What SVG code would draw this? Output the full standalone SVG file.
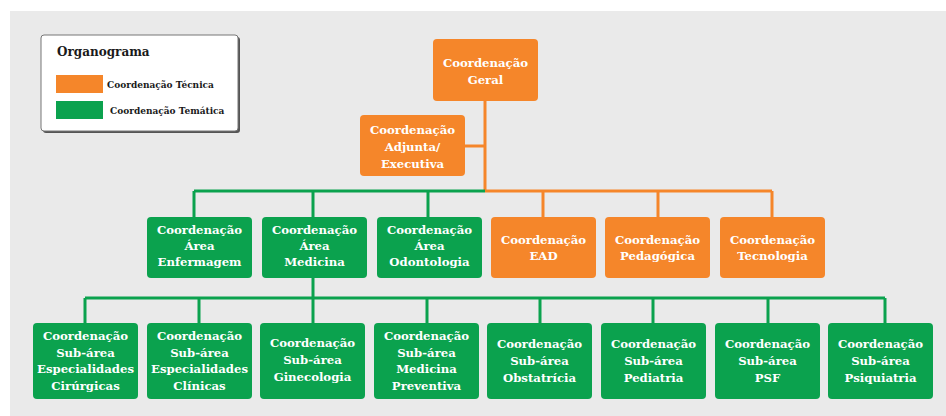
<svg xmlns="http://www.w3.org/2000/svg" width="946" height="416" viewBox="0 0 946 416">
<style>
.bg{fill:#eaeaea}
.o{fill:#f5862a}
.g{fill:#0ba24e}
.t{font-family:"DejaVu Serif","Liberation Serif",serif;font-weight:bold;font-size:11.7px;fill:#ffffff;text-anchor:middle}
.lg{font-family:"DejaVu Serif","Liberation Serif",serif;font-weight:bold;fill:#1a1a1a}
.lo{stroke:#f5862a;stroke-width:3;fill:none}
.lgn{stroke:#0ba24e;stroke-width:3;fill:none}
</style>
<rect x="0" y="0" width="946" height="416" fill="#ffffff"/>
<rect class="bg" x="10" y="11" width="936" height="405"/>

<g id="legend">
<rect x="43" y="37" width="197" height="96" rx="3" fill="#555555"/>
<rect x="41" y="35" width="197" height="96" rx="3" fill="#ffffff" stroke="#777777" stroke-width="1"/>
<text class="lg" x="57" y="56" font-size="12">Organograma</text>
<rect class="o" x="56" y="75" width="47" height="18"/>
<text class="lg" x="107" y="88" font-size="9">Coordenação Técnica</text>
<rect class="g" x="56" y="101" width="47" height="18"/>
<text class="lg" x="110" y="114" font-size="9">Coordenação Temática</text>
</g>

<g id="connectors">
<path class="lo" d="M485 101 V191 M465 146 H485 M485 191 H772 M543 191 V217 M658 191 V217 M772 191 V217"/>
<path class="lgn" d="M194 191 H485 M194 191 V217 M313 191 V217 M428 191 V217"/>
<path class="lgn" d="M313 278 V298 M85 298 H885 M85 298 V323 M199 298 V323 M313 298 V323 M427 298 V323 M540 298 V323 M653 298 V323 M768 298 V323 M885 298 V323"/>
</g>

<g id="geral">
<rect class="o" x="433" y="39" width="105" height="62" rx="4"/>
<text class="t" x="485.5" y="67">Coordenação</text>
<text class="t" x="485.5" y="84">Geral</text>
</g>
<g id="adjunta">
<rect class="o" x="360" y="115" width="105" height="61" rx="4"/>
<text class="t" x="412.5" y="134">Coordenação</text>
<text class="t" x="412.5" y="151">Adjunta/</text>
<text class="t" x="412.5" y="168">Executiva</text>
</g>

<g id="enfermagem">
<rect class="g" x="147" y="217" width="105" height="61" rx="4"/>
<text class="t" x="199.5" y="234">Coordenação</text>
<text class="t" x="199.5" y="250">Área</text>
<text class="t" x="199.5" y="266">Enfermagem</text>
</g>
<g id="medicina">
<rect class="g" x="262" y="217" width="105" height="61" rx="4"/>
<text class="t" x="314.5" y="234">Coordenação</text>
<text class="t" x="314.5" y="250">Área</text>
<text class="t" x="314.5" y="266">Medicina</text>
</g>
<g id="odontologia">
<rect class="g" x="377" y="217" width="105" height="61" rx="4"/>
<text class="t" x="429.5" y="234">Coordenação</text>
<text class="t" x="429.5" y="250">Área</text>
<text class="t" x="429.5" y="266">Odontologia</text>
</g>
<g id="ead">
<rect class="o" x="491" y="217" width="105" height="61" rx="4"/>
<text class="t" x="543.5" y="244">Coordenação</text>
<text class="t" x="543.5" y="260">EAD</text>
</g>
<g id="pedagogica">
<rect class="o" x="605" y="217" width="105" height="61" rx="4"/>
<text class="t" x="657.5" y="244">Coordenação</text>
<text class="t" x="657.5" y="260">Pedagógica</text>
</g>
<g id="tecnologia">
<rect class="o" x="720" y="217" width="105" height="61" rx="4"/>
<text class="t" x="772.5" y="244">Coordenação</text>
<text class="t" x="772.5" y="260">Tecnologia</text>
</g>

<g id="cirurgicas">
<rect class="g" x="33" y="323" width="105" height="76" rx="4"/>
<text class="t" x="85.5" y="340">Coordenação</text>
<text class="t" x="85.5" y="357">Sub-área</text>
<text class="t" x="85.5" y="373">Especialidades</text>
<text class="t" x="85.5" y="390">Cirúrgicas</text>
</g>
<g id="clinicas">
<rect class="g" x="147" y="323" width="105" height="76" rx="4"/>
<text class="t" x="199.5" y="340">Coordenação</text>
<text class="t" x="199.5" y="357">Sub-área</text>
<text class="t" x="199.5" y="373">Especialidades</text>
<text class="t" x="199.5" y="390">Clínicas</text>
</g>
<g id="ginecologia">
<rect class="g" x="260" y="323" width="105" height="76" rx="4"/>
<text class="t" x="312.5" y="347">Coordenação</text>
<text class="t" x="312.5" y="364">Sub-área</text>
<text class="t" x="312.5" y="381">Ginecologia</text>
</g>
<g id="preventiva">
<rect class="g" x="374" y="323" width="105" height="76" rx="4"/>
<text class="t" x="426.5" y="340">Coordenação</text>
<text class="t" x="426.5" y="357">Sub-área</text>
<text class="t" x="426.5" y="373">Medicina</text>
<text class="t" x="426.5" y="390">Preventiva</text>
</g>
<g id="obstatricia">
<rect class="g" x="487" y="323" width="105" height="76" rx="4"/>
<text class="t" x="539.5" y="348">Coordenação</text>
<text class="t" x="539.5" y="365">Sub-área</text>
<text class="t" x="539.5" y="382">Obstatrícia</text>
</g>
<g id="pediatria">
<rect class="g" x="601" y="323" width="105" height="76" rx="4"/>
<text class="t" x="653.5" y="348">Coordenação</text>
<text class="t" x="653.5" y="365">Sub-área</text>
<text class="t" x="653.5" y="382">Pediatria</text>
</g>
<g id="psf">
<rect class="g" x="715" y="323" width="105" height="76" rx="4"/>
<text class="t" x="767.5" y="348">Coordenação</text>
<text class="t" x="767.5" y="365">Sub-área</text>
<text class="t" x="767.5" y="382">PSF</text>
</g>
<g id="psiquiatria">
<rect class="g" x="828" y="323" width="105" height="76" rx="4"/>
<text class="t" x="880.5" y="348">Coordenação</text>
<text class="t" x="880.5" y="365">Sub-área</text>
<text class="t" x="880.5" y="382">Psiquiatria</text>
</g>
</svg>
